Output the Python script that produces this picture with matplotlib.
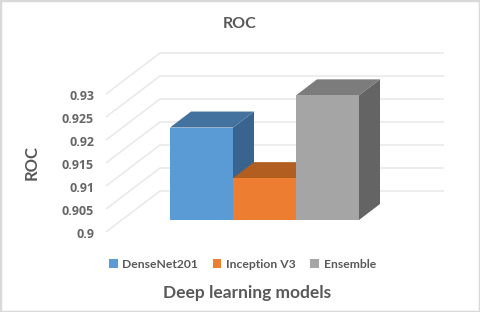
import matplotlib.pyplot as plt
from matplotlib.patches import Polygon, Rectangle

plt.rcParams['font.family'] = ['Lato', 'DejaVu Sans']

models = ['DenseNet201', 'Inception V3', 'Ensemble']
roc = [0.9201, 0.9091, 0.9271]
ticks = [0.9, 0.905, 0.91, 0.915, 0.92, 0.925, 0.93]
tick_labels = ['0.9', '0.905', '0.91', '0.915', '0.92', '0.925', '0.93']

front = ['#5b9bd5', '#ed7d31', '#a5a5a5']
top = ['#44729f', '#b25e20', '#7c7c7c']
side = ['#3a6490', '#a35219', '#646464']
grey = '#595959'

W, H = 480, 312
fig = plt.figure(figsize=(W / 100, H / 100), dpi=100)
fig.patch.set_facecolor('white')
fig.add_artist(Rectangle((0, 0), 1, 1, transform=fig.transFigure, fill=False, ec='#d9d9d9', lw=2.5))

# axes = front plane of the bars, depth is faked with polygons
ax = fig.add_axes([170 / W, 1 - 220 / H, 189 / W, 138 / H])
ax.set_xlim(0, 3)
ax.set_ylim(0.9, 0.93)
ax.axis('off')

px = 3 / 189
py = 0.03 / 138

# gridlines: floor/left wall line then back wall line
for v, lab in zip(ticks, tick_labels):
    xs = [(106 - 170) * px, (160 - 170) * px, (444 - 170) * px]
    ys = [v - 12 * py, v + 29 * py, v + 29 * py]
    ax.plot(xs, ys, color='#e8e8e8', lw=1.1, clip_on=False, zorder=1, solid_capstyle='butt')
    ax.text((94 - 170) * px, v - 14 * py, lab, ha='right', va='center', fontsize=9,
            fontweight='bold', family='Open Sans', color='#666666', clip_on=False)

dx = 21 * px
dy = 16 * py
for i, val in enumerate(roc):
    z = 2 + i
    ax.add_patch(Polygon([(i + 1, 0.9), (i + 1 + dx, 0.9 + dy), (i + 1 + dx, val + dy), (i + 1, val)],
                         fc=side[i], ec='none', zorder=z, clip_on=False))
    ax.add_patch(Polygon([(i, val), (i + dx, val + dy), (i + 1 + dx, val + dy), (i + 1, val)],
                         fc=top[i], ec='none', zorder=z, clip_on=False))
    ax.bar(i + 0.5, val - 0.9, width=1, bottom=0.9, color=front[i], label=models[i], zorder=z, clip_on=False)

fig.text(240 / W, 1 - 24 / H, 'ROC', ha='center', va='center', fontsize=11.5, fontweight='bold', color=grey)
fig.text(32 / W, 1 - 163 / H, 'ROC', ha='center', va='center', rotation=90, fontsize=12,
         fontweight='bold', color=grey)
fig.text(247 / W, 1 - 293 / H, 'Deep learning models', ha='center', va='center', fontsize=12.5,
         fontweight='bold', color=grey)

fig.legend(loc='center', bbox_to_anchor=(242.5 / W, 1 - 264 / H), ncol=3, frameon=False,
           labelcolor=grey, handlelength=0.7, handleheight=0.7, handletextpad=0.4,
           columnspacing=1.2, prop={'weight': 'bold', 'size': 8.7})

fig.savefig('out.png', dpi=100)
